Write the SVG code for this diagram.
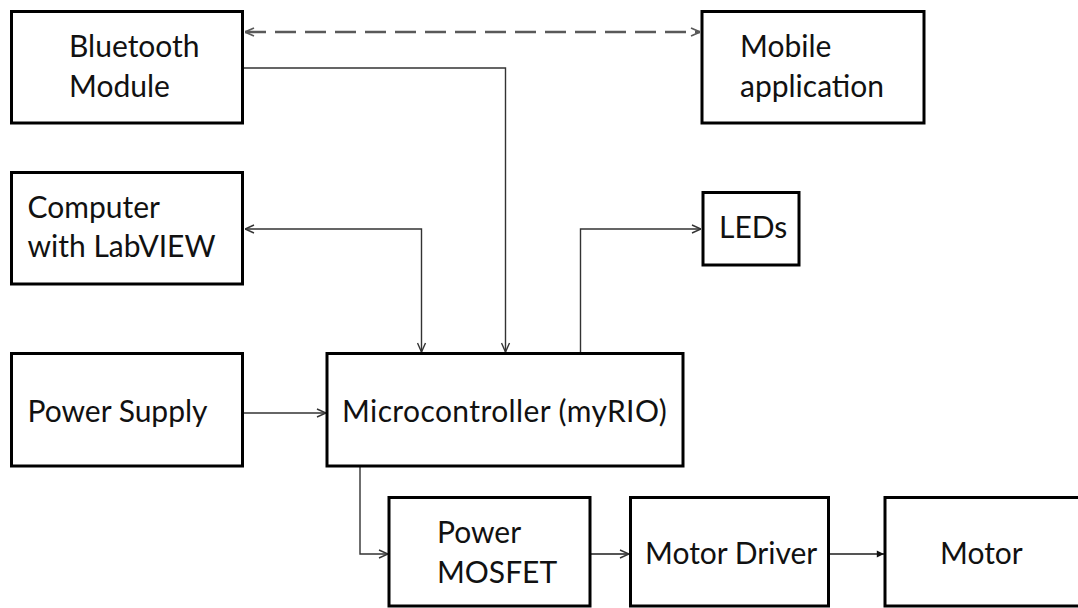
<svg xmlns="http://www.w3.org/2000/svg" width="1078" height="608" viewBox="0 0 1078 608">
<style>
.box{fill:#fff;stroke:#000;stroke-width:3}
.t{font-family:Lato,"Open Sans","Liberation Sans",sans-serif;font-size:30px;fill:#111}
.c{fill:none;stroke:#333;stroke-width:1.4}
.d{fill:none;stroke:#595959;stroke-width:2.5;stroke-dasharray:21 9}
</style>
<defs>
<marker id="a" viewBox="0 0 10 10" refX="10" refY="5" markerWidth="10" markerHeight="10" markerUnits="userSpaceOnUse" orient="auto-start-reverse">
<path d="M1,1 L10,5 L1,9" fill="none" stroke="#333" stroke-width="1.4"/>
</marker>
<marker id="ad" viewBox="0 0 10 10" refX="10" refY="5" markerWidth="10" markerHeight="10" markerUnits="userSpaceOnUse" orient="auto-start-reverse">
<path d="M1,1 L10,5 L1,9" fill="none" stroke="#595959" stroke-width="1.6"/>
</marker>
<marker id="af" viewBox="0 0 10 10" refX="10" refY="5" markerWidth="9" markerHeight="9" markerUnits="userSpaceOnUse" orient="auto">
<path d="M2,1 L10,5 L2,9 Z" fill="#111"/>
</marker>
</defs>
<rect width="1078" height="608" fill="#fff"/>
<g id="connectors">
<path class="d" d="M245,32 L700,32" marker-start="url(#ad)" marker-end="url(#ad)"/>
<path class="c" d="M244,68 L505.5,68 L505.5,352" marker-end="url(#a)"/>
<path class="c" d="M245,229 L421.5,229 L421.5,352" marker-start="url(#a)" marker-end="url(#a)"/>
<path class="c" d="M580.5,352 L580.5,229 L701,229" marker-end="url(#a)"/>
<path class="c" d="M244,413 L326,413" marker-end="url(#a)"/>
<path class="c" d="M360,467 L360,554 L388,554" marker-end="url(#a)"/>
<path class="c" d="M591,554 L629,554" marker-end="url(#a)" style="stroke:#555;stroke-width:1.8"/>
<path class="c" d="M830,554 L884,554" marker-end="url(#af)" style="stroke:#555;stroke-width:1.8"/>
</g>
<g id="bluetooth"><rect class="box" x="11.5" y="11.5" width="231" height="111.5"/><text class="t" x="69" y="57">Bluetooth</text><text class="t" x="69" y="97">Module</text></g>
<g id="mobile"><rect class="box" x="702" y="11.5" width="222" height="111.5"/><text class="t" x="740" y="57">Mobile</text><text class="t" x="740" y="97">application</text></g>
<g id="computer"><rect class="box" x="11.5" y="172.5" width="231" height="111.5"/><text class="t" x="27.5" y="218">Computer</text><text class="t" x="27.5" y="257">with LabVIEW</text></g>
<g id="leds"><rect class="box" x="703" y="192.5" width="96" height="72.5"/><text class="t" x="719" y="238">LEDs</text></g>
<g id="power-supply"><rect class="box" x="11.5" y="353.5" width="231" height="112.5"/><text class="t" x="27.5" y="422">Power Supply</text></g>
<g id="microcontroller"><rect class="box" x="327" y="353.5" width="356" height="112.5"/><text class="t" x="342" y="422" letter-spacing="0.4">Microcontroller (myRIO)</text></g>
<g id="mosfet"><rect class="box" x="389" y="497.5" width="201" height="108.5"/><text class="t" x="437" y="543">Power</text><text class="t" x="437" y="583">MOSFET</text></g>
<g id="motor-driver"><rect class="box" x="630.5" y="497.5" width="198" height="108.5"/><text class="t" x="645" y="564">Motor Driver</text></g>
<g id="motor"><rect class="box" x="885" y="497.5" width="210" height="108.5"/><text class="t" x="940" y="564">Motor</text></g>
</svg>
